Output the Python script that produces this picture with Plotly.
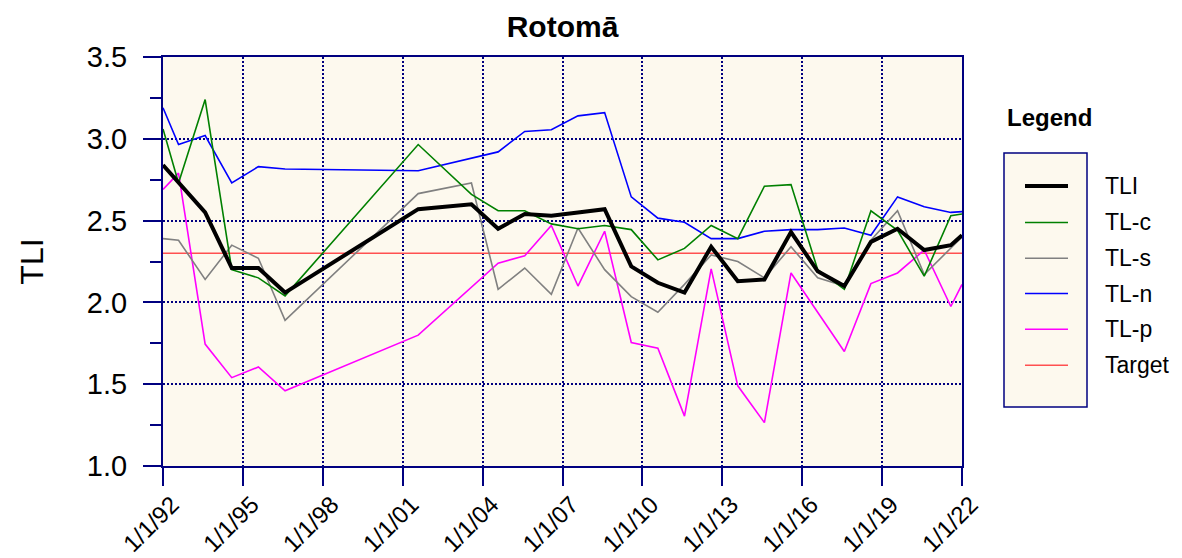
import plotly.graph_objects as go

# ---------------- data ----------------
dates = [
    "1992-01-01", "1992-08-01", "1993-08-01", "1994-08-01", "1995-08-01",
    "1996-08-01", "2001-08-01", "2003-08-01", "2004-08-01", "2005-08-01",
    "2006-08-01", "2007-08-01", "2008-08-01", "2009-08-01", "2010-08-01",
    "2011-08-01", "2012-08-01", "2013-08-01", "2014-08-01", "2015-08-01",
    "2016-08-01", "2017-08-01", "2018-08-01", "2019-08-01", "2020-08-01",
    "2021-08-01", "2022-01-01",
]

tli = [2.84, 2.73, 2.55, 2.21, 2.21, 2.06, 2.57, 2.60, 2.45, 2.54,
       2.53, 2.55, 2.57, 2.22, 2.12, 2.06, 2.34, 2.13, 2.14, 2.43,
       2.19, 2.10, 2.37, 2.45, 2.32, 2.35, 2.41]

tl_c = [3.06, 2.73, 3.24, 2.20, 2.15, 2.04, 2.965, 2.66, 2.56, 2.56,
        2.48, 2.45, 2.47, 2.445, 2.26, 2.33, 2.47, 2.39, 2.71, 2.72,
        2.20, 2.08, 2.56, 2.44, 2.16, 2.53, 2.54]

tl_s = [2.39, 2.38, 2.14, 2.35, 2.27, 1.89, 2.665, 2.73, 2.08, 2.21,
        2.05, 2.455, 2.20, 2.035, 1.94, 2.11, 2.29, 2.25, 2.15, 2.34,
        2.15, 2.10, 2.38, 2.56, 2.17, 2.33, 2.40]

tl_n = [3.19, 2.965, 3.02, 2.73, 2.83, 2.815, 2.805, 2.88, 2.92, 3.045,
        3.055, 3.14, 3.16, 2.645, 2.515, 2.49, 2.39, 2.39, 2.435, 2.445,
        2.445, 2.455, 2.41, 2.645, 2.585, 2.55, 2.555]

tl_p = [2.69, 2.79, 1.745, 1.54, 1.605, 1.46, 1.80, 2.09, 2.24, 2.285,
        2.47, 2.10, 2.435, 1.755, 1.72, 1.305, 2.205, 1.49, 1.265, 2.18,
        1.94, 1.70, 2.115, 2.18, 2.32, 1.975, 2.11]

target_dates = ["1992-01-01", "2022-01-01"]
target = [2.3, 2.3]

tick_years = [1992, 1995, 1998, 2001, 2004, 2007, 2010, 2013, 2016, 2019, 2022]
tick_labels = ["1/1/92", "1/1/95", "1/1/98", "1/1/01", "1/1/04", "1/1/07",
               "1/1/10", "1/1/13", "1/1/16", "1/1/19", "1/1/22"]

series_names = ["TLI", "TL-c", "TL-s", "TL-n", "TL-p", "Target"]
series_colors = ["#000000", "#008000", "#808080", "#0000FF", "#FF00FF", "#FF5050"]
series_widths = [4, 1.6, 1.6, 1.6, 1.6, 1.6]

# ---------------- figure geometry ----------------
OFF = 8                      # default page body margin in the browser
W, H = 1182 - OFF, 558 - OFF
PLOT_L, PLOT_R, PLOT_T, PLOT_B = 163, 962, 57, 466   # page pixels of plot area
ML = PLOT_L - OFF
MT = PLOT_T - OFF
PW = PLOT_R - PLOT_L
PH = PLOT_B - PLOT_T
MR = W - ML - PW
MB = H - MT - PH
NAVY = "#000080"
CREAM = "#FDF9EE"
FONT = "Liberation Sans, Arial, sans-serif"


def px_x(px):
    return (px - PLOT_L) / PW


def px_y(py):
    return (PLOT_B - py) / PH


fig = go.Figure()
series_data = [(dates, tli), (dates, tl_c), (dates, tl_s), (dates, tl_n),
               (dates, tl_p), (target_dates, target)]
order = [5, 4, 3, 2, 1, 0]
for i in order:
    xs, ys = series_data[i]
    fig.add_trace(go.Scatter(
        x=xs, y=ys, mode="lines", name=series_names[i],
        line=dict(color=series_colors[i], width=series_widths[i]),
        connectgaps=True, showlegend=False, hoverinfo="x+y+name",
    ))

fig.update_layout(
    width=W, height=H,
    margin=dict(l=ML, r=MR, t=MT, b=MB, autoexpand=False),
    paper_bgcolor="white",
    plot_bgcolor=CREAM,
    font=dict(family=FONT, color="black"),
    title=dict(text="<b>Rotomā</b>", x=0.5, xref="paper", xanchor="center",
               y=1 - (26 - OFF) / H, yref="container", yanchor="middle",
               font=dict(size=30, family=FONT, color="black"), automargin=False),
    showlegend=False,
)

fig.update_xaxes(
    type="date",
    range=["1992-01-01", "2022-01-01"],
    tickvals=[f"{y}-01-01" for y in tick_years],
    ticktext=tick_labels,
    tickangle=-45,
    tickfont=dict(size=24, family=FONT, color="black"),
    ticks="outside", ticklen=18, tickwidth=2, tickcolor=NAVY,
    ticklabelshift=9, ticklabelstandoff=-5,
    showline=True, linecolor=NAVY, linewidth=2, mirror=True,
    showgrid=True, gridcolor=NAVY, gridwidth=1.5, griddash="2px,2px",
    zeroline=False, automargin=False,
)

fig.update_yaxes(
    range=[1.0, 3.5],
    dtick=0.5, tick0=1.0, tickformat=".1f",
    tickfont=dict(size=29, family=FONT, color="black"),
    ticks="outside", ticklen=18, tickwidth=2, tickcolor=NAVY,
    ticklabelstandoff=10,
    minor=dict(dtick=0.25, ticks="outside", ticklen=11, tickwidth=2,
               tickcolor=NAVY, showgrid=False),
    showline=True, linecolor=NAVY, linewidth=2, mirror=True,
    showgrid=True, gridcolor=NAVY, gridwidth=1.5, griddash="2px,2px",
    zeroline=False, automargin=False,
    title=dict(text="TLI", font=dict(size=32, family=FONT, color="black"),
               standoff=34),
)

# ---------------- manual legend (box with swatches, labels outside) ----------------
shapes = [dict(type="rect", xref="paper", yref="paper",
               x0=px_x(1004), x1=px_x(1087), y0=px_y(407), y1=px_y(153),
               fillcolor=CREAM, line=dict(color=NAVY, width=1.5), layer="above")]
annotations = [dict(text="<b>Legend</b>", xref="paper", yref="paper",
                    x=px_x(1049), y=px_y(118), xanchor="center", yanchor="middle",
                    showarrow=False, font=dict(size=24, family=FONT, color="black"))]
leg_y = [186, 222.5, 258.3, 293.5, 329.3, 365.3]
for i, name in enumerate(series_names):
    shapes.append(dict(type="line", xref="paper", yref="paper",
                       x0=px_x(1025), x1=px_x(1068), y0=px_y(leg_y[i]), y1=px_y(leg_y[i]),
                       line=dict(color=series_colors[i], width=series_widths[i]),
                       layer="above"))
    annotations.append(dict(text=name, xref="paper", yref="paper",
                            x=px_x(1103), y=px_y(leg_y[i]), xanchor="left", yanchor="middle",
                            showarrow=False, font=dict(size=23, family=FONT, color="black")))

fig.update_layout(shapes=shapes, annotations=annotations)

fig.write_html("out.html")
